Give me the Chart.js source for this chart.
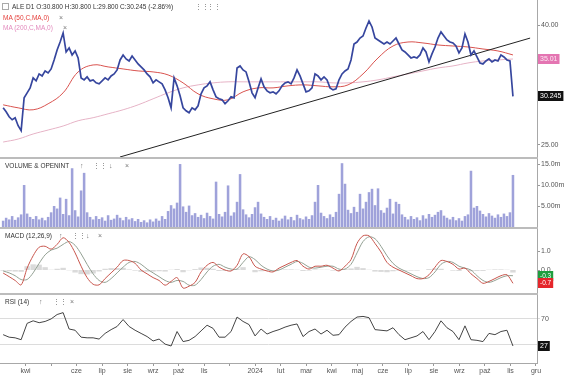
<!DOCTYPE html>
<html><head><meta charset="utf-8">
<script src="https://cdn.jsdelivr.net/npm/chart.js@4.4.1/dist/chart.umd.min.js"></script>
<style>
body{margin:0;background:#fff;}
#wrap{position:relative;width:564px;height:380px;overflow:hidden;background:#fff;font-family:"Liberation Sans",Arial,sans-serif;}
canvas{position:absolute;left:0;}
.sep{position:absolute;left:0;width:538px;height:2px;background:#bcbcbc;}
.t{position:absolute;white-space:nowrap;font-size:6.5px;line-height:8px;color:#333;}
.ic{position:absolute;white-space:nowrap;font-size:7px;line-height:8px;color:#777;}
.sq{position:absolute;left:2px;top:3px;width:5px;height:5px;border:1px solid #aaa;}
</style></head><body>
<div id="wrap">
<canvas id="cPrice" width="564" height="157" style="top:0"></canvas>
<div class="sep" style="top:157px"></div>
<canvas id="cVol" width="564" height="68" style="top:159px"></canvas>
<div class="sep" style="top:227px"></div>
<canvas id="cMacd" width="564" height="64" style="top:229px"></canvas>
<div class="sep" style="top:293px"></div>
<canvas id="cRsi" width="564" height="85" style="top:295px"></canvas>

<div class="sq"></div>
<div class="t" style="left:12px;top:3px">ALE D1 O:30.800 H:30.800 L:29.800 C:30.245 (-2.86%)</div>
<div class="ic" style="left:195px;top:3px">⋮⋮</div>
<div class="ic" style="left:207px;top:3px">⋮⋮</div>
<div class="t" style="left:3px;top:14px;color:#e5403c">MA (50,C,MA,0)</div>
<div class="ic" style="left:59px;top:14px">×</div>
<div class="t" style="left:3px;top:24px;color:#e38bbd">MA (200,C,MA,0)</div>
<div class="ic" style="left:63px;top:24px">×</div>

<div class="t" style="left:5px;top:162px">VOLUME &amp; OPENINT</div>
<div class="ic" style="left:80px;top:162px">↑</div>
<div class="ic" style="left:93px;top:162px">⋮⋮</div>
<div class="ic" style="left:109px;top:162px">↓</div>
<div class="ic" style="left:125px;top:162px">×</div>

<div class="t" style="left:5px;top:232px">MACD (12,26,9)</div>
<div class="ic" style="left:59px;top:232px">↑</div>
<div class="ic" style="left:72px;top:232px">⋮⋮</div>
<div class="ic" style="left:86px;top:232px">↓</div>
<div class="ic" style="left:98px;top:232px">×</div>

<div class="t" style="left:5px;top:298px">RSI (14)</div>
<div class="ic" style="left:39px;top:298px">↑</div>
<div class="ic" style="left:53px;top:298px">⋮⋮</div>
<div class="ic" style="left:70px;top:298px">×</div>
</div>

<script>
// ---- time axis: months since 1 March 2023 ----
const monthLabels = ['', 'kwi', '', 'cze', 'lip', 'sie', 'wrz', 'paź', 'lis', '', '2024', 'lut', 'mar', 'kwi', 'maj', 'cze', 'lip', 'sie', 'wrz', 'paź', 'lis', 'gru'];
const X_MIN = 0, X_MAX = 21.04;

// ---- daily series (sampled every ~2.5 sessions) ----
const seriesStart = 0.123;
const priceStep = 0.1175;
const closes = [
 28.91, 28.47, 27.91, 27.59, 27.81, 26.95, 26.43, 30.07, 30.66, 31.26,
 32.51, 32.13, 33.02, 32.76, 33.41, 33.15, 33.67, 34.88, 36.27, 37.42,
 38.77, 35.99, 36.56, 35.57, 36.13, 35.15, 32.51, 32.26, 32.64, 32.13,
 32.26, 31.88, 31.76, 32.13, 32.51, 32.26, 32.76, 33.02, 33.54, 34.88,
 35.57, 35.02, 34.74, 35.43, 34.88, 34.34, 33.94, 33.54, 33.02, 32.64,
 31.88, 32.26, 32.01, 31.76, 31.02, 30.07, 28.91, 32.51, 31.51, 30.30,
 28.91, 28.58, 28.35, 28.91, 28.69, 29.14, 30.54, 31.26, 31.51, 32.01,
 31.02, 30.18, 29.95, 29.83, 29.37, 29.72, 30.18, 30.07, 33.80, 34.07,
 33.54, 33.28, 32.01, 30.66, 30.07, 31.26, 32.38, 31.39, 30.90, 30.66,
 30.78, 30.54, 30.90, 31.51, 31.88, 32.01, 31.76, 32.51, 33.54, 32.76,
 31.76, 30.78, 30.90, 31.26, 33.02, 32.76, 32.26, 32.64, 32.26, 31.26,
 31.02, 31.14, 32.26, 33.02, 33.41, 33.67, 34.88, 37.13, 37.42, 38.01,
 38.31, 39.53, 40.63, 39.69, 38.01, 37.72, 37.42, 37.13, 37.42, 37.13,
 37.57, 38.01, 37.13, 36.27, 35.99, 35.57, 35.15, 35.29, 35.15, 35.57,
 36.56, 35.99, 34.61, 35.71, 36.70, 38.01, 38.92, 38.31, 37.72, 37.42,
 37.28, 36.84, 35.85, 36.56, 38.62, 37.42, 35.57, 36.13, 35.29, 34.47,
 34.34, 34.74, 35.02, 34.61, 34.88, 34.74, 35.57, 35.29, 34.88, 34.74,
 30.245
];
const volumesM = [
 1.5, 2.2, 1.8, 2.6, 1.7, 2.3, 3.0, 10.0, 3.2, 2.4,
 1.9, 2.6, 1.8, 2.2, 1.6, 2.4, 3.5, 5.0, 4.4, 7.0,
 3.1, 6.7, 2.8, 14.0, 4.0, 2.5, 8.7, 12.9, 3.5, 2.4,
 1.8, 2.6, 1.9, 2.3, 1.5, 2.8, 1.7, 2.0, 2.9, 2.2,
 1.6, 2.4, 1.8, 2.1, 1.4, 1.9, 1.2, 1.6, 1.1, 1.8,
 1.3, 2.0, 1.5, 2.6, 1.9, 3.8, 5.2, 4.4, 5.8, 15.0,
 4.9, 3.6, 5.1, 2.8, 3.3, 2.4, 2.9, 2.1, 3.4, 2.6,
 2.0, 10.8, 3.1, 2.5, 3.6, 9.9, 2.7, 3.5, 6.0, 12.6,
 4.2, 3.0, 2.3, 3.1, 4.7, 6.0, 3.2, 2.4, 1.9, 2.6,
 1.7, 2.2, 1.5, 2.0, 2.7, 1.8, 2.4, 1.6, 2.9, 2.1,
 1.8, 2.5, 1.9, 2.8, 6.0, 10.0, 3.4, 2.6, 2.1, 3.0,
 2.4, 3.6, 7.9, 15.2, 10.3, 4.1, 3.3, 4.8, 3.6, 7.9,
 4.4, 6.0, 8.3, 9.1, 5.2, 9.2, 4.0, 3.4, 4.6, 6.7,
 3.2, 6.0, 5.5, 3.0, 2.4, 1.8, 2.6, 1.9, 2.3, 1.6,
 2.8, 2.0, 3.1, 2.4, 2.9, 3.6, 4.0, 2.7, 2.2, 1.8,
 2.4, 1.6, 2.1, 1.5, 2.6, 3.0, 13.4, 4.6, 5.0, 3.9,
 3.1, 2.5, 3.3, 2.7, 2.2, 3.0, 2.4, 3.2, 2.6, 3.5,
 12.4
];

// ---- moving averages (every ~12 sessions) ----
const maStep = 0.5875;
const ma50 = [29.25, 28.91, 28.69, 29.37, 30.66, 33.28, 34.20, 33.94, 33.67, 33.41,
 33.28, 32.89, 31.88, 30.54, 29.95, 29.83, 30.78, 31.26, 31.26, 31.51,
 31.63, 31.51, 31.39, 31.63, 33.02, 35.15, 36.84, 37.42, 37.28, 36.99,
 36.84, 36.70, 36.41, 36.13, 35.57];
const ma200 = [25.28, 25.58, 26.09, 26.50, 26.92, 27.48, 27.81, 28.24, 28.69, 29.25,
 29.95, 30.66, 31.26, 31.63, 31.88, 32.01, 32.01, 32.01, 32.01, 32.01,
 32.01, 32.01, 31.88, 31.88, 32.01, 32.26, 32.64, 33.02, 33.41, 33.80,
 34.07, 34.47, 34.74, 34.88, 35.01];

// ---- trend line (two anchor points: month, price) ----
const trendX = [4.70, 20.77];
const trendY = [23.84, 38.0];

// ---- MACD (12,26,9) and RSI(14), every ~5 sessions ----
const indStep = 0.235;
const macdLine = [
 -0.16, -0.35, -0.55, -0.78, 0.1, 0.75, 1.2, 1.25, 1.1, 1.35,
 1.7, 1.45, 0.9, 0.2, -0.4, -0.75, -0.78, -0.45, -0.15, 0.15,
 0.5, 0.5, 0.35, 0.0, -0.2, -0.4, -0.55, -0.8, -0.6, -0.4,
 -0.95, -0.85, -0.65, -0.1, 0.25, 0.4, 0.15, 0.0, -0.05, 0.25,
 0.85, 0.7, 0.2, 0.05, -0.05, -0.1, 0.1, 0.25, 0.4, 0.5,
 0.2, 0.05, 0.2, 0.2, 0.25, 0.1, -0.05, 0.2, 0.55, 1.4,
 1.8, 1.8, 1.4, 0.95, 0.4, 0.15, 0.0, -0.15, -0.3, -0.45,
 -0.45, -0.25, 0.15, 0.5, 0.45, 0.3, 0.05, 0.1, -0.2, -0.45,
 -0.7, -0.6, -0.45, -0.3, -0.25, -0.7];
const signalLine = [
 -0.05, -0.15, -0.3, -0.5, -0.5, -0.15, 0.35, 0.8, 1.05, 1.15,
 1.35, 1.5, 1.3, 0.85, 0.3, -0.2, -0.55, -0.65, -0.45, -0.15,
 0.15, 0.4, 0.45, 0.3, 0.05, -0.15, -0.35, -0.55, -0.65, -0.55,
 -0.6, -0.8, -0.8, -0.5, -0.1, 0.2, 0.3, 0.15, 0.05, 0.05,
 0.4, 0.7, 0.55, 0.25, 0.05, -0.05, 0.0, 0.15, 0.3, 0.45,
 0.35, 0.15, 0.1, 0.15, 0.2, 0.2, 0.05, 0.05, 0.3, 0.9,
 1.5, 1.75, 1.65, 1.25, 0.75, 0.35, 0.1, -0.05, -0.2, -0.35,
 -0.45, -0.4, -0.1, 0.3, 0.45, 0.4, 0.2, 0.1, 0.0, -0.3,
 -0.55, -0.65, -0.55, -0.4, -0.3, -0.3];
const macdHist = [
 -0.11, -0.2, -0.25, -0.28, 0.6, 0.9, 0.85, 0.45, 0.05, 0.2,
 0.35, -0.05, -0.4, -0.65, -0.7, -0.55, -0.23, 0.2, 0.3, 0.3,
 0.35, 0.1, -0.1, -0.3, -0.25, -0.25, -0.2, -0.25, 0.05, 0.15,
 -0.35, -0.05, 0.15, 0.4, 0.35, 0.2, -0.15, -0.15, -0.1, 0.2,
 0.45, 0.0, -0.35, -0.2, -0.1, -0.05, 0.1, 0.1, 0.1, 0.05,
 -0.15, -0.1, 0.1, 0.05, 0.05, -0.1, -0.1, 0.15, 0.25, 0.5,
 0.3, 0.05, -0.25, -0.3, -0.35, -0.2, -0.1, -0.1, -0.1, -0.1,
 0.0, 0.15, 0.25, 0.2, 0.0, -0.1, -0.15, 0.0, -0.2, -0.15,
 -0.15, 0.05, 0.1, 0.1, 0.05, -0.4];
const rsi14 = [
 45, 41, 40, 37, 63, 67, 64, 66, 70, 77,
 80, 54, 52, 41, 40, 40, 38, 47, 53, 58,
 69, 58, 52, 47, 42, 35, 38, 30, 27, 50,
 34, 36, 42, 51, 60, 55, 41, 41, 50, 73,
 66, 61, 43, 54, 46, 50, 53, 57, 60, 62,
 42, 50, 54, 46, 52, 44, 45, 57, 66, 73,
 74, 72, 53, 52, 51, 56, 45, 37, 40, 43,
 50, 37, 50, 67, 56, 50, 37, 59, 37, 36,
 34, 47, 45, 50, 52, 27];

// ---- axis tick definitions ----
const priceTicks = [25, 40];
const volTickValues = [5, 10, 15];
const volTickLabels = ['5.00m', '10.00m', '15.0m'];
const macdTicks = [0, 1];
const rsiTicks = [30, 70];

// ---------- helpers ----------
const pts = (arr, step) => arr.map((v, i) => ({x: seriesStart + i * step, y: v}));
const FONT = '"Liberation Sans", Arial, sans-serif';

function yAxis(extra) {
  return Object.assign({
    position: 'right',
    afterFit(s) { s.width = 27; s.paddingTop = 0; s.paddingBottom = 0; },
    grid: {drawOnChartArea: false, tickLength: 3, color: '#999'},
    border: {display: true, color: '#a8a8a8'},
    ticks: {font: {size: 7, family: FONT}, color: '#555', padding: 1}
  }, extra);
}
function xHidden() { return {type: 'linear', min: X_MIN, max: X_MAX, offset: false, display: false}; }
function badges(items) {
  return {
    id: 'badges',
    afterDraw(chart) {
      const ctx = chart.ctx, ys = chart.scales.y, r = chart.chartArea.right;
      ctx.save();
      ctx.textBaseline = 'middle';
      items.forEach(b => {
        const py = Math.round(ys.getPixelForValue(b.value));
        ctx.font = (b.size || 7) + 'px ' + FONT;
        const w = ctx.measureText(b.text).width + 4;
        ctx.fillStyle = b.bg;
        ctx.fillRect(r + 1, py - 5, w, 10);
        ctx.fillStyle = b.fg;
        ctx.fillText(b.text, r + 3, py + 0.5);
      });
      ctx.restore();
    }
  };
}
const base = {
  responsive: false, animation: false, devicePixelRatio: 1, events: [],
  layout: {padding: 0},
  plugins: {legend: {display: false}, tooltip: {enabled: false}}
};

// ---------- price panel ----------
new Chart(document.getElementById('cPrice'), {
  type: 'line',
  data: {datasets: [
    {data: pts(closes, priceStep), borderColor: '#36469e', borderWidth: 1.7, pointRadius: 0, tension: 0},
    {data: trendX.map((x, i) => ({x, y: trendY[i]})), borderColor: '#222', borderWidth: 1, pointRadius: 0},
    {data: pts(ma50, maStep), borderColor: '#d9534f', borderWidth: 1, pointRadius: 0, tension: 0.4},
    {data: pts(ma200, maStep), borderColor: '#e6b3c6', borderWidth: 1, pointRadius: 0, tension: 0.4}
  ]},
  options: Object.assign({}, base, {
    scales: {
      x: xHidden(),
      y: yAxis({type: 'logarithmic', min: 23.84, max: 44.12,
        afterBuildTicks(s) { s.ticks = priceTicks.map(v => ({value: v})); },
        ticks: {font: {size: 7, family: FONT}, color: '#555', padding: 1, callback: v => Number(v).toFixed(2)}})
    }
  }),
  plugins: [badges([
    {value: ma200[ma200.length - 1], text: ma200[ma200.length - 1].toFixed(2), bg: '#e475b2', fg: '#fbe9f3'},
    {value: closes[closes.length - 1], text: closes[closes.length - 1].toFixed(3), bg: '#111', fg: '#fff'}
  ])]
});

// ---------- volume panel ----------
new Chart(document.getElementById('cVol'), {
  type: 'bar',
  data: {datasets: [
    {data: pts(volumesM, priceStep), backgroundColor: '#9fa2da', barPercentage: 0.85, categoryPercentage: 1}
  ]},
  options: Object.assign({}, base, {
    scales: {
      x: xHidden(),
      y: yAxis({min: 0, max: 16.2,
        afterBuildTicks(s) { s.ticks = volTickValues.map(v => ({value: v})); },
        ticks: {font: {size: 7, family: FONT}, color: '#555', padding: 1,
          callback: v => volTickLabels[volTickValues.indexOf(v)]}})
    }
  })
});

// ---------- MACD panel ----------
const MACD_MIN = -1.21, MACD_MAX = 2.16;
new Chart(document.getElementById('cMacd'), {
  type: 'line',
  data: {datasets: [
    {data: pts(macdLine, indStep), yAxisID: 'y', borderColor: '#c8554c', borderWidth: 1, pointRadius: 0, tension: 0.3},
    {data: pts(signalLine, indStep), yAxisID: 'y', borderColor: '#93a093', borderWidth: 1, pointRadius: 0, tension: 0.3},
    {type: 'bar', data: pts(macdHist, indStep), yAxisID: 'yh', backgroundColor: '#dadada', barPercentage: 0.9, categoryPercentage: 1}
  ]},
  options: Object.assign({}, base, {
    scales: {
      x: xHidden(),
      y: yAxis({min: MACD_MIN, max: MACD_MAX,
        afterBuildTicks(s) { s.ticks = macdTicks.map(v => ({value: v})); },
        ticks: {font: {size: 7, family: FONT}, color: '#555', padding: 1, callback: v => Number(v).toFixed(1)}}),
      yh: {display: false, min: MACD_MIN * 3, max: MACD_MAX * 3}
    }
  }),
  plugins: [badges([
    {value: signalLine[signalLine.length - 1], text: signalLine[signalLine.length - 1].toFixed(1), bg: '#1f9e3f', fg: '#fff', size: 6.5},
    {value: macdLine[macdLine.length - 1], text: macdLine[macdLine.length - 1].toFixed(1), bg: '#e5262b', fg: '#fff', size: 6.5}
  ])]
});

// ---------- RSI panel ----------
new Chart(document.getElementById('cRsi'), {
  type: 'line',
  data: {datasets: [
    {data: pts(rsi14, indStep), borderColor: '#444', borderWidth: 1, pointRadius: 0, tension: 0}
  ]},
  options: Object.assign({}, base, {
    scales: {
      x: {type: 'linear', min: X_MIN, max: X_MAX, position: 'bottom', offset: false,
        afterBuildTicks(s) { s.ticks = monthLabels.map((l, i) => ({value: i})).filter(t => t.value >= 1); },
        afterFit(s) { s.height = 17; s.paddingLeft = 0; s.paddingRight = 0; },
        grid: {drawOnChartArea: false, tickLength: 3, color: '#999'},
        border: {display: true, color: '#a8a8a8'},
        ticks: {autoSkip: false, maxRotation: 0, font: {size: 7, family: FONT}, color: '#555', padding: 1,
          callback: v => monthLabels[v]}},
      y: yAxis({min: 0, max: 108,
        afterBuildTicks(s) { s.ticks = rsiTicks.map(v => ({value: v})); },
        grid: {drawOnChartArea: true, tickLength: 3, color: '#dcdcdc'},
        ticks: {font: {size: 7, family: FONT}, color: '#555', padding: 1, callback: v => String(v)}})
    }
  }),
  plugins: [badges([
    {value: rsi14[rsi14.length - 1], text: String(rsi14[rsi14.length - 1]), bg: '#111', fg: '#fff'}
  ])]
});
</script>
</body></html>
